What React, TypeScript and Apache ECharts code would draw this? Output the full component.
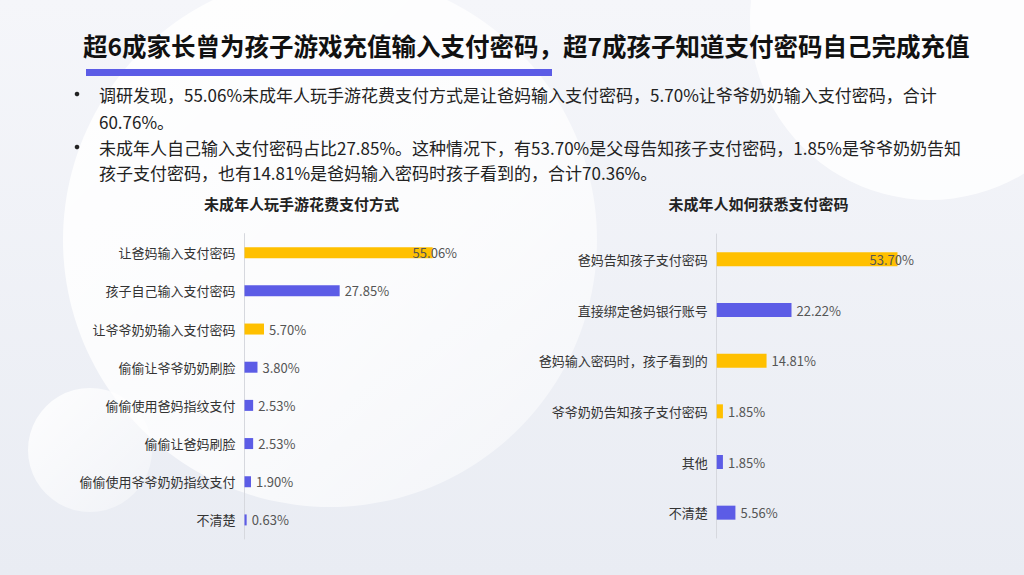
import { useEffect, useRef } from 'react'
import * as echarts from 'echarts'

const headline = '超6成家长曾为孩子游戏充值输入支付密码，超7成孩子知道支付密码自己完成充值'
const bulletLines = [
  '调研发现，55.06%未成年人玩手游花费支付方式是让爸妈输入支付密码，5.70%让爷爷奶奶输入支付密码，合计',
  '60.76%。',
  '未成年人自己输入支付密码占比27.85%。这种情况下，有53.70%是父母告知孩子支付密码，1.85%是爷爷奶奶告知',
  '孩子支付密码，也有14.81%是爸妈输入密码时孩子看到的，合计70.36%。'
]

const payTitle = '未成年人玩手游花费支付方式'
const payCategories = [
  '让爸妈输入支付密码',
  '孩子自己输入支付密码',
  '让爷爷奶奶输入支付密码',
  '偷偷让爷爷奶奶刷脸',
  '偷偷使用爸妈指纹支付',
  '偷偷让爸妈刷脸',
  '偷偷使用爷爷奶奶指纹支付',
  '不清楚'
]
const payValues = [55.06, 27.85, 5.7, 3.8, 2.53, 2.53, 1.9, 0.63]
const payHighlight = [true, false, true, false, false, false, false, false]

const pwdTitle = '未成年人如何获悉支付密码'
const pwdCategories = [
  '爸妈告知孩子支付密码',
  '直接绑定爸妈银行账号',
  '爸妈输入密码时，孩子看到的',
  '爷爷奶奶告知孩子支付密码',
  '其他',
  '不清楚'
]
const pwdValues = [53.7, 22.22, 14.81, 1.85, 1.85, 5.56]
const pwdHighlight = [true, false, true, true, false, false]

const YELLOW = '#FFC000'
const BLUE = '#5C5CE6'
const FONT = '"Noto Sans CJK SC", "Noto Sans", sans-serif'

// 第一根条的标签压在条上，和原图一致
const barData = (values: number[], highlight: boolean[], firstOffset: number) =>
  values.map((v, i) => ({
    value: v,
    itemStyle: { color: highlight[i] ? YELLOW : BLUE },
    label: i === 0 ? { offset: [firstOffset, 0] } : undefined
  }))

const categoryAxis = (gridIndex: number, data: string[]) => ({
  type: 'category' as const,
  gridIndex,
  data,
  inverse: true,
  axisLine: { show: true, lineStyle: { color: '#D6D8DE', width: 1 } },
  axisTick: { show: false },
  axisLabel: { color: '#333', fontSize: 13, margin: 9, fontFamily: FONT }
})

const valueAxis = (gridIndex: number) => ({
  type: 'value' as const,
  gridIndex,
  min: 0,
  max: 60,
  show: false,
  splitLine: { show: false }
})

export default function App() {
  const chartRef = useRef<HTMLDivElement>(null)

  useEffect(() => {
    document.body.style.margin = '0'
    if (!chartRef.current) return
    const chart = echarts.init(chartRef.current, null, { renderer: 'svg' })

    const graphic: any[] = [
      {
        type: 'rect',
        shape: { x: 0, y: 0, width: 1024, height: 575 },
        style: {
          fill: new echarts.graphic.LinearGradient(0, 0, 0, 1, [
            { offset: 0, color: '#F5F6FA' },
            { offset: 1, color: '#E9ECF3' }
          ])
        },
        z: -10
      },
      {
        type: 'circle',
        shape: { cx: 90, cy: 450, r: 62 },
        style: {
          fill: new echarts.graphic.LinearGradient(0, 0, 1, 1, [
            { offset: 0, color: 'rgba(255,255,255,0.9)' },
            { offset: 1, color: 'rgba(255,255,255,0.3)' }
          ])
        },
        z: -9
      },
      {
        type: 'circle',
        shape: { cx: 330, cy: 240, r: 267 },
        style: {
          fill: new echarts.graphic.LinearGradient(0, 0, 1, 1, [
            { offset: 0, color: 'rgba(255,255,255,0.95)' },
            { offset: 0.6, color: 'rgba(255,255,255,0.75)' },
            { offset: 1, color: 'rgba(255,255,255,0.35)' }
          ])
        },
        z: -8
      },
      {
        type: 'circle',
        shape: { cx: 930, cy: 20, r: 180 },
        style: { fill: 'rgba(255,255,255,0.8)' },
        z: -8
      },
      {
        type: 'text',
        x: 83,
        y: 45,
        style: {
          text: headline,
          fontSize: 24.5,
          fontWeight: 'bold',
          fontFamily: FONT,
          fill: '#111',
          textVerticalAlign: 'middle'
        }
      },
      {
        type: 'rect',
        shape: { x: 86, y: 69, width: 466, height: 7 },
        style: { fill: BLUE }
      }
    ]

    const lineY = [94, 121, 147, 172]
    bulletLines.forEach((line, i) => {
      if (i === 0 || i === 2) {
        graphic.push({
          type: 'circle',
          shape: { cx: 77, cy: lineY[i], r: 2.3 },
          style: { fill: '#222' }
        })
      }
      graphic.push({
        type: 'text',
        x: 99,
        y: lineY[i],
        style: {
          text: line,
          fontSize: 17,
          fontFamily: FONT,
          fill: '#222',
          textVerticalAlign: 'middle'
        }
      })
    })

    const labelStyle = {
      show: true,
      position: 'right' as const,
      distance: 5,
      color: '#555',
      fontSize: 13,
      fontFamily: FONT,
      formatter: (p: any) => `${Number(p.value).toFixed(2)}%`
    }

    chart.setOption({
      animation: false,
      textStyle: { fontFamily: FONT },
      title: [
        {
          text: payTitle,
          left: 301.5,
          top: 196,
          textAlign: 'center',
          textStyle: { fontSize: 15, fontWeight: 'bold', color: '#222', fontFamily: FONT },
          padding: 0
        },
        {
          text: pwdTitle,
          left: 758.5,
          top: 196,
          textAlign: 'center',
          textStyle: { fontSize: 15, fontWeight: 'bold', color: '#222', fontFamily: FONT },
          padding: 0
        }
      ],
      graphic,
      grid: [
        { left: 244.5, top: 233.6, width: 205, height: 305.4 },
        { left: 716.7, top: 234, width: 202, height: 304 }
      ],
      xAxis: [valueAxis(0), valueAxis(1)],
      yAxis: [categoryAxis(0, payCategories), categoryAxis(1, pwdCategories)],
      series: [
        {
          type: 'bar',
          xAxisIndex: 0,
          yAxisIndex: 0,
          barWidth: 11,
          label: labelStyle,
          data: barData(payValues, payHighlight, -25)
        },
        {
          type: 'bar',
          xAxisIndex: 1,
          yAxisIndex: 1,
          barWidth: 14,
          label: labelStyle,
          data: barData(pwdValues, pwdHighlight, -33)
        }
      ]
    })

    return () => {
      chart.dispose()
    }
  }, [])

  return <div ref={chartRef} style={{ width: 1024, height: 575 }} />
}
